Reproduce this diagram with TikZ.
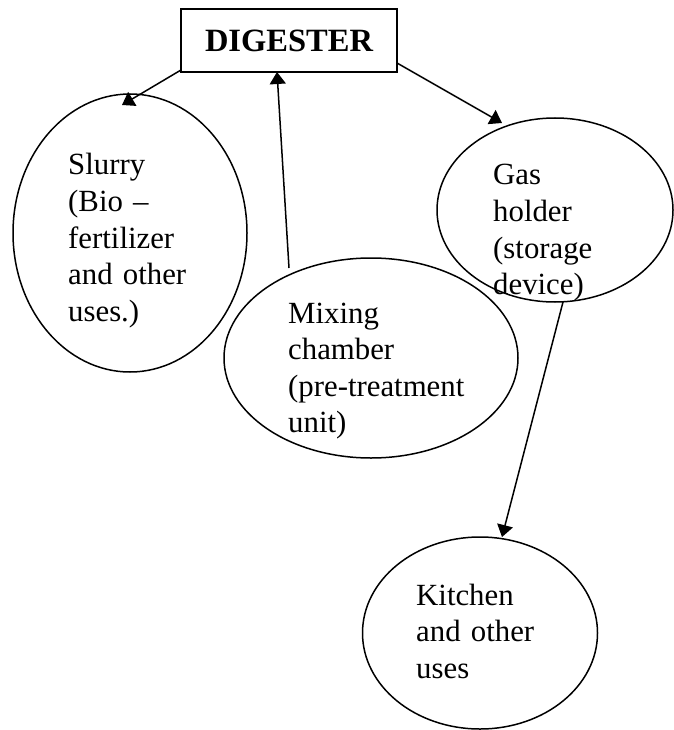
\documentclass[tikz,border=0pt]{standalone}
\usepackage{fontspec}
\setmainfont{Liberation Serif}
\usetikzlibrary{shapes.geometric,arrows.meta}
\begin{document}
\begin{tikzpicture}[x=1pt,y=-1pt,
  oval/.style={draw,ellipse,line width=1.5pt,inner sep=0pt},
  lbl/.style={anchor=base west,inner sep=0pt,text width=220pt,align=left,
    font=\fontsize{30.8}{36.6}\selectfont},
  arr/.style={line width=1.5pt,-{Triangle[length=12pt,width=16pt]}}]
\useasboundingbox (0,0) rectangle (673,730);
% box
\node[draw,line width=1.8pt,minimum width=216pt,minimum height=63pt,inner sep=0pt,
  font=\fontsize{32.5}{36}\selectfont\bfseries] (dig) at (289,40.5) {DIGESTER};
% ellipses
\node[oval,minimum width=234pt,minimum height=278pt] (slurry) at (130,233) {};
\node[oval,minimum width=236pt,minimum height=184pt] (gas) at (555,210) {};
\node[oval,minimum width=294pt,minimum height=200pt] (mix) at (371,358) {};
\node[oval,minimum width=235pt,minimum height=192pt] (kit) at (480,633) {};
% texts
\node[lbl] (slurrytxt) at (68,175) {Slurry\\(Bio –\\fertilizer\\and other\\uses.)};
\node[lbl] (gastxt) at (493,185) {Gas\\holder\\(storage\\device)};
\node[lbl] (mixtxt) at (288,323) {Mixing\\chamber\\(pre-treatment\\unit)};
\node[lbl] (kittxt) at (416,605) {Kitchen\\and other\\uses};
% connector end points
\coordinate (d1) at (181,70);
\coordinate (s1) at (122,105);
\coordinate (d2) at (397,63);
\coordinate (g1) at (502,123);
\coordinate (m1) at (289,268);
\coordinate (d3) at (277,72);
\coordinate (g2) at (563,302);
\coordinate (k1) at (502,537);
\draw[arr] (d1) -- (s1);
\draw[arr] (d2) -- (g1);
\draw[arr] (m1) -- (d3);
\draw[arr] (g2) -- (k1);
\end{tikzpicture}
\end{document}
